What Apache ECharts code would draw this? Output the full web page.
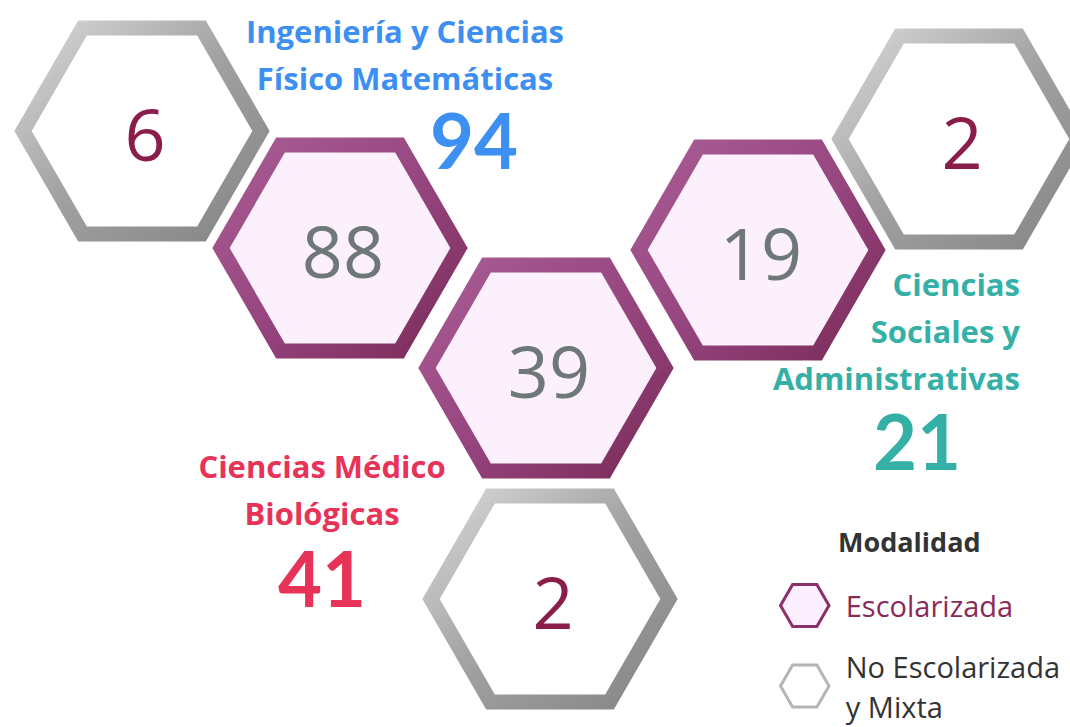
<!DOCTYPE html>
<html><head><meta charset="utf-8">
<script src="https://cdn.jsdelivr.net/npm/echarts@6/dist/echarts.min.js"></script>
<style>html,body{margin:0;padding:0;background:#fff}#main{width:1070px;height:727px}</style>
</head><body><div id="main"></div>
<script>
// ---- data ----
const categories = ['Ingeniería y Ciencias\nFísico Matemáticas', 'Ciencias Médico\nBiológicas', 'Ciencias\nSociales y\nAdministrativas'];
const totals = [94, 41, 21];
const escolarizada = [88, 39, 19];
const noEscolarizada = [6, 2, 2];
const modalidades = ['Escolarizada', 'No Escolarizada\ny Mixta'];
const legendTitle = 'Modalidad';

// ---- layout (pixel units on hidden axes) ----
const escPos = [[340, 248], [546, 368], [758, 250]];
const noEscPos = [[142, 131], [550, 599], [959, 139]];
const labelPos = [[405, 7], [322, 442], [1020, 260]];
const labelAlign = ['center', 'center', 'right'];
const totalPos = [[474, 139], [322, 577], [917, 440]];
const catColors = ['#3d8ff2', '#e83358', '#35b0a6'];

const HEX_R = 119;      // path circumradius
const BORDER = 15;
const HEX_PATH = 'path://M0,43.3L25,0L75,0L100,43.3L75,86.6L25,86.6Z';
const LABEL_FONT = 'Open Sans';
const TOTAL_FONT = 'Lato';
const NUM_FONT = 'Open Sans';

function hexPoints(cx, cy, r) {
  const pts = [];
  for (let i = 0; i < 6; i++) {
    const a = Math.PI / 3 * i;
    pts.push([cx + r * Math.cos(a), cy + r * Math.sin(a)]);
  }
  return pts;
}
const purpleStroke = new echarts.graphic.LinearGradient(0, 0, 1, 1, [
  { offset: 0, color: '#a95c94' }, { offset: 0.5, color: '#974680' }, { offset: 1, color: '#7a2b58' }]);
const grayStroke = new echarts.graphic.LinearGradient(0, 0, 1, 1, [
  { offset: 0, color: '#d8d8d8' }, { offset: 0.5, color: '#a0a0a0' }, { offset: 1, color: '#858585' }]);

function hexRenderer(fill, stroke, numColor) {
  return function (params, api) {
    const c = api.coord([api.value(0), api.value(1)]);
    const r = api.size([HEX_R, 0])[0];
    return {
      type: 'group',
      children: [
        { type: 'polygon', shape: { points: hexPoints(c[0], c[1], r) },
          style: { fill: fill, stroke: stroke, lineWidth: BORDER, lineJoin: 'miter' } },
        { type: 'text', x: c[0] + 3, y: c[1] + 2,
          style: { text: String(api.value(2)), fill: numColor, fontSize: 72, fontFamily: NUM_FONT,
                   align: 'center', verticalAlign: 'middle' } }
      ]
    };
  };
}

function labelRenderer(params, api) {
  const i = params.dataIndex;
  const p = api.coord([labelPos[i][0], labelPos[i][1]]);
  const t = api.coord([totalPos[i][0], totalPos[i][1]]);
  return {
    type: 'group',
    children: [
      { type: 'text', x: p[0], y: p[1],
        style: { text: categories[i], fill: catColors[i], fontSize: 31, fontWeight: 'bold', fontFamily: LABEL_FONT,
                 align: labelAlign[i], verticalAlign: 'top', lineHeight: 47 } },
      { type: 'text', x: t[0], y: t[1],
        style: { text: String(totals[i]), fill: catColors[i], fontSize: 76, fontWeight: 'bold', fontFamily: TOTAL_FONT,
                 align: 'center', verticalAlign: 'middle' } }
    ]
  };
}

const chart = echarts.init(document.getElementById('main'), null, { renderer: 'svg' });
chart.setOption({
  animation: false,
  backgroundColor: '#fff',
  title: { text: legendTitle, left: 838, top: 528, padding: 0,
           textStyle: { fontSize: 27, fontWeight: 'bold', color: '#333', fontFamily: LABEL_FONT } },
  legend: {
    orient: 'vertical', left: 779, top: 583, height: 240, padding: 0, itemWidth: 72, itemHeight: 42, itemGap: 18,
    icon: HEX_PATH, selectedMode: false,
    textStyle: { fontSize: 29, fontFamily: NUM_FONT, lineHeight: 40 },
    data: [
      { name: modalidades[0], textStyle: { color: '#8b2a5a' },
        itemStyle: { color: '#fcefff', borderColor: '#8b3068', borderWidth: 3 } },
      { name: modalidades[1], textStyle: { color: '#333' },
        itemStyle: { color: '#ffffff', borderColor: '#b5b5b5', borderWidth: 3 } }
    ]
  },
  grid: { left: 0, right: 0, top: 0, bottom: 0 },
  xAxis: { type: 'value', min: 0, max: 1070, show: false },
  yAxis: { type: 'value', min: 0, max: 727, inverse: true, show: false },
  series: [
    { name: modalidades[0], type: 'custom', renderItem: hexRenderer('#fcf0fd', purpleStroke, '#6e7878'),
      itemStyle: { color: '#fcefff', borderColor: '#8b3068' },
      data: escolarizada.map((v, i) => [escPos[i][0], escPos[i][1], v]) },
    { name: modalidades[1], type: 'custom', renderItem: hexRenderer('#ffffff', grayStroke, '#8b1d4b'),
      itemStyle: { color: '#ffffff', borderColor: '#b5b5b5' },
      data: noEscolarizada.map((v, i) => [noEscPos[i][0], noEscPos[i][1], v]) },
    { name: 'labels', type: 'custom', renderItem: labelRenderer,
      data: totals.map((v, i) => [i, v]) }
  ]
});
</script></body></html>
